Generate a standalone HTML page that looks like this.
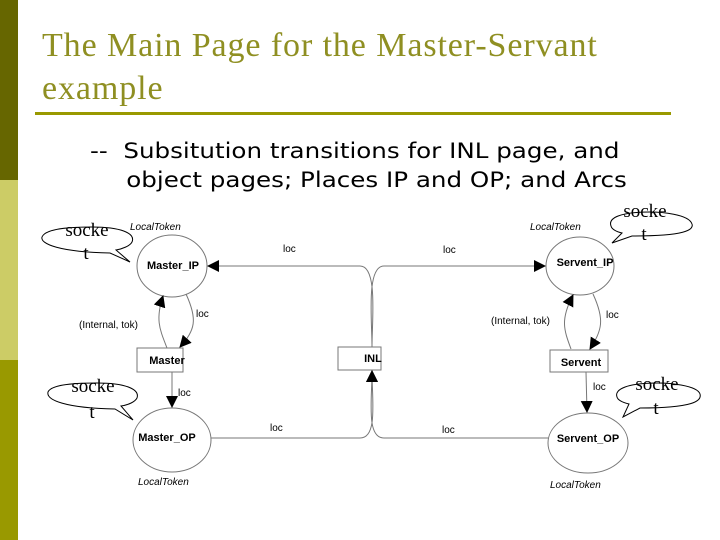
<!DOCTYPE html>
<html><head><meta charset="utf-8"><style>
body{margin:0;width:720px;height:540px;background:#fff;overflow:hidden;position:relative;font-family:"Liberation Sans",sans-serif}
.bar{position:absolute;left:0;width:18px}
</style></head><body>
<div class="bar" style="top:0;height:180px;background:#666600"></div>
<div class="bar" style="top:180px;height:180px;background:#cccc66"></div>
<div class="bar" style="top:360px;height:180px;background:#999900"></div>
<div style="position:absolute;left:42px;top:24px;font:34px 'Liberation Serif',serif;letter-spacing:0.9px;color:#8f8f22;line-height:43px;white-space:nowrap">The Main Page for the Master-Servant<br>example</div>
<div style="position:absolute;left:35px;top:112px;width:636px;height:3px;background:#999900"></div>
<div style="position:absolute;left:90px;top:137px;font-family:'DejaVu Sans',sans-serif;font-size:21px;line-height:29px;color:#000;white-space:nowrap;transform:scaleX(1.17);transform-origin:0 0">--&nbsp; Subsitution transitions for INL page, and<br><span style="padding-left:31px">object pages; Places IP and OP; and Arcs</span></div>
<svg width="720" height="540" style="position:absolute;left:0;top:0" font-family="Liberation Sans,sans-serif">
<defs><marker id="b" markerWidth="12" markerHeight="12" refX="11" refY="6" orient="auto" markerUnits="userSpaceOnUse"><path d="M0,0L12,6L0,12z" fill="#000"/></marker></defs>
<g fill="none" stroke="#777" stroke-width="1">
<ellipse cx="172" cy="266" rx="35" ry="31"/>
<ellipse cx="172" cy="440" rx="39" ry="32"/>
<ellipse cx="580" cy="266" rx="34" ry="29"/>
<ellipse cx="588" cy="443" rx="40" ry="30"/>
<rect x="137" y="348" width="46" height="24"/>
<rect x="338" y="347" width="43" height="23"/>
<rect x="550" y="350" width="58" height="22"/>
<path d="M372,347 C372,320 378,266 360,266 L208,266" marker-end="url(#b)"/>
<path d="M372,347 C372,320 366,266 384,266 L545,266" marker-end="url(#b)"/>
<path d="M211,438 L360,438 C378,438 372,400 372,371" marker-end="url(#b)"/>
<path d="M548,438 L384,438 C366,438 372,400 372,371" marker-end="url(#b)"/>
<path d="M167,348 C160,330 155,320 163,296" marker-end="url(#b)"/>
<path d="M186,294 C198,320 195,330 180,347" marker-end="url(#b)"/>
<path d="M571,349 C564,330 560,320 573,295" marker-end="url(#b)"/>
<path d="M593,294 C605,320 602,330 590,349" marker-end="url(#b)"/>
<path d="M172,372 L172,407" marker-end="url(#b)"/>
<path d="M586,372 L587,412" marker-end="url(#b)"/>
</g>
<g fill="none" stroke="#000" stroke-width="1">
<path d="M110,253 C60,252 40,244 42,237 C46,227 80,227 92,227 C120,227 136,233 132,242 C130,246 122,249 116,250 L130,262 Z"/>
<path d="M115,409 C65,408 46,400 48,392 C52,383 85,383 97,383 C125,383 140,389 137,398 C135,402 128,405 121,406 L133,420 Z"/>
<path d="M632,236 C685,236 694,230 692,224 C689,214 660,212 650,212 C620,212 608,218 611,226 C612,230 618,232 622,233 L612,243 Z"/>
<path d="M640,408 C693,408 702,401 700,394 C697,385 668,383 658,383 C628,383 614,389 617,397 C618,401 625,403 629,404 L623,417 Z"/>
</g>
<g font-size="19" font-family="Liberation Serif,serif" fill="#000" text-anchor="middle">
<text x="87" y="236">socke</text><text x="86" y="259">t</text>
<text x="93" y="392">socke</text><text x="92" y="418">t</text>
<text x="645" y="217">socke</text><text x="644" y="240">t</text>
<text x="657" y="390">socke</text><text x="656" y="414">t</text>
</g>
<g font-size="11" font-weight="bold" fill="#000" text-anchor="middle">
<text x="173" y="269">Master_IP</text>
<text x="167" y="364">Master</text>
<text x="167" y="441">Master_OP</text>
<text x="373" y="362">INL</text>
<text x="585" y="266">Servent_IP</text>
<text x="581" y="366">Servent</text>
<text x="588" y="442">Servent_OP</text>
</g>
<g font-size="10" fill="#000">
<g font-style="italic"><text x="130" y="230">LocalToken</text><text x="530" y="230">LocalToken</text>
<text x="138" y="485">LocalToken</text><text x="550" y="488">LocalToken</text></g>
<text x="283" y="252">loc</text><text x="443" y="253">loc</text>
<text x="196" y="317">loc</text><text x="606" y="318">loc</text>
<text x="79" y="328">(Internal, tok)</text><text x="491" y="324">(Internal, tok)</text>
<text x="178" y="396">loc</text><text x="593" y="390">loc</text>
<text x="270" y="431">loc</text><text x="442" y="433">loc</text>
</g>
</svg>
</body></html>
